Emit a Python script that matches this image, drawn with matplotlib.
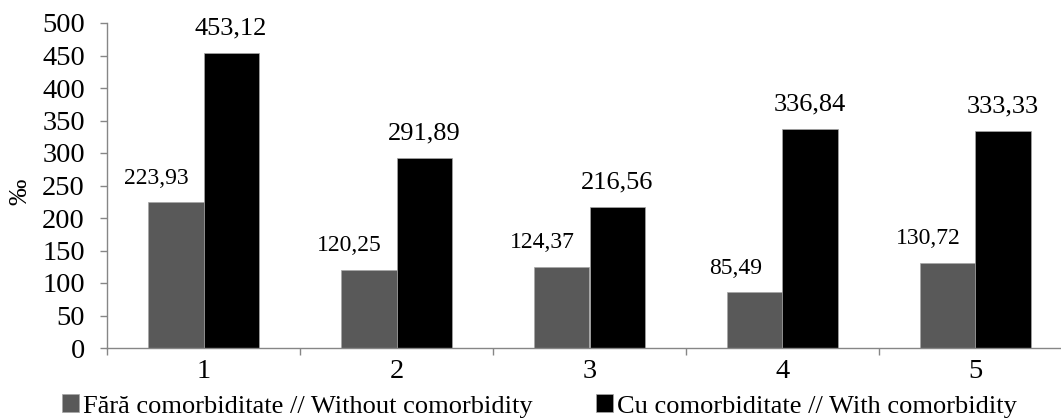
import matplotlib
matplotlib.use("Agg")
import matplotlib.pyplot as plt
import numpy as np

# data
categories = ["1", "2", "3", "4", "5"]
without_comorb = [223.93, 120.25, 124.37, 85.49, 130.72]
with_comorb = [453.12, 291.89, 216.56, 336.84, 333.33]
label_without = "Fără comorbiditate // Without comorbidity"
label_with = "Cu comorbiditate // With comorbidity"
y_ticks = [0, 50, 100, 150, 200, 250, 300, 350, 400, 450, 500]

plt.rcParams["font.family"] = ["Liberation Serif", "DejaVu Serif"]

W, H = 1061, 420
fig = plt.figure(figsize=(W / 100, H / 100), dpi=100)
ax = fig.add_axes([107 / W, 72 / H, 965 / W, 325 / H])

x = np.arange(len(categories))
bw = 0.285
b1 = ax.bar(x - bw / 2, without_comorb, bw, color="#595959", edgecolor="#A6A6A6",
            linewidth=0.5, label=label_without)
b2 = ax.bar(x + bw / 2, with_comorb, bw, color="#000000", edgecolor="#A6A6A6",
            linewidth=0.5, label=label_with)

def fmt(v):
    return f"{v:.2f}".replace(".", ",")

for rect, v in zip(b1, without_comorb):
    ax.annotate(fmt(v), (rect.get_x() + rect.get_width() / 2, v),
                xytext=(-14, 10), textcoords="offset points",
                ha="center", va="bottom", fontsize=17)
for rect, v in zip(b2, with_comorb):
    ax.annotate(fmt(v), (rect.get_x() + rect.get_width() / 2, v),
                xytext=(0, 10), textcoords="offset points",
                ha="center", va="bottom", fontsize=19)

ax.set_xlim(-0.5, len(categories) - 0.5)
ax.set_ylim(0, 500)
ax.set_yticks(y_ticks)
ax.tick_params(axis="y", labelsize=20.5, length=5, width=1, color="#868686", pad=11)

# category labels centred, tick marks between groups
ax.set_xticks(x)
ax.set_xticklabels(categories)
ax.tick_params(axis="x", which="major", length=0, labelsize=20.5, pad=8)
ax.set_xticks(np.arange(len(categories) + 1) - 0.5, minor=True)
ax.tick_params(axis="x", which="minor", length=5, width=1, color="#868686")

for s in ["top", "right"]:
    ax.spines[s].set_visible(False)
for s in ["left", "bottom"]:
    ax.spines[s].set_color("#868686")
    ax.spines[s].set_linewidth(1)

ax.set_ylabel("‰", fontsize=19, rotation=90)
ax.yaxis.set_label_coords(-0.078, 0.48)

leg_kw = dict(loc="center left", frameon=False, fontsize=19, handlelength=0.65,
              handleheight=0.65, handletextpad=0.15, borderpad=0, borderaxespad=0)
fig.legend(handles=[b1], labels=[label_without], bbox_to_anchor=(62 / W, 1 - 406 / H), **leg_kw)
fig.legend(handles=[b2], labels=[label_with], bbox_to_anchor=(596 / W, 1 - 406 / H), **leg_kw)

fig.savefig("out.png", dpi=100)
